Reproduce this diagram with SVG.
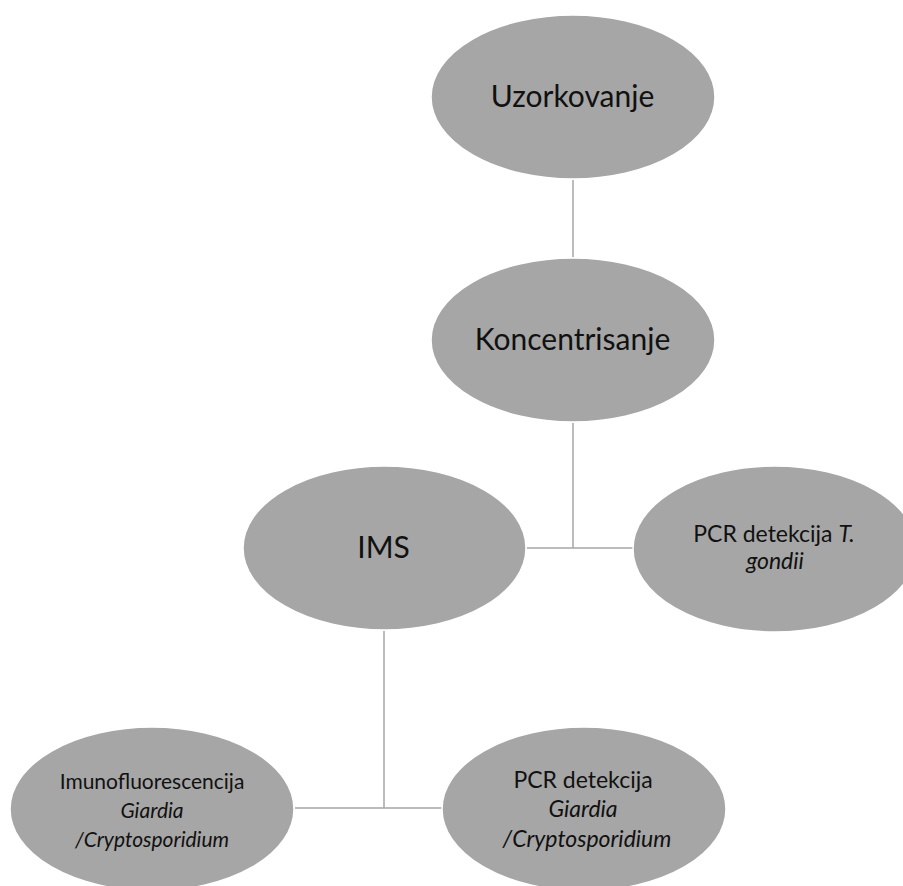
<svg xmlns="http://www.w3.org/2000/svg" width="903" height="886" viewBox="0 0 903 886">
<style>
.node{fill:#a6a6a6;stroke:#ffffff;stroke-width:1.5}
.lbl{font-family:Lato,"Open Sans","Liberation Sans",sans-serif;fill:#111111;text-anchor:middle}
.big{font-size:30px}
.mid{font-size:23px}
.sm{font-size:21px}
.it{font-style:italic}
.conn{fill:none;stroke:#a6a6a6;stroke-width:1.5}
</style>
<rect width="903" height="886" fill="#ffffff"/>
<g id="connectors">
<path class="conn" d="M573 180V257"/>
<path class="conn" d="M573 423V548M527 548H633"/>
<path class="conn" d="M384 631V808M295 808H442"/>
</g>
<g id="n-uzorkovanje">
<ellipse class="node" cx="573" cy="97" rx="142" ry="82"/>
<text class="lbl big" x="572.5" y="107">Uzorkovanje</text>
</g>
<g id="n-koncentrisanje">
<ellipse class="node" cx="573" cy="340" rx="142" ry="82"/>
<text class="lbl big" x="572.5" y="350">Koncentrisanje</text>
</g>
<g id="n-ims">
<ellipse class="node" cx="384.5" cy="548" rx="141.5" ry="82"/>
<text class="lbl big" x="383.5" y="558">IMS</text>
</g>
<g id="n-pcr-tgondii">
<ellipse class="node" cx="775" cy="549" rx="142" ry="83"/>
<text class="lbl mid" x="774" y="542">PCR detekcija <tspan class="it">T.</tspan></text>
<text class="lbl mid it" x="775" y="569">gondii</text>
</g>
<g id="n-imunofluorescencija">
<ellipse class="node" cx="152" cy="809" rx="142" ry="82"/>
<text class="lbl sm" x="152" y="789">Imunofluorescencija</text>
<text class="lbl sm it" x="152" y="818">Giardia</text>
<text class="lbl sm it" x="152" y="847">/Cryptosporidium</text>
</g>
<g id="n-pcr-giardia">
<ellipse class="node" cx="584" cy="809" rx="142" ry="82"/>
<text class="lbl mid" x="583" y="788">PCR detekcija</text>
<text class="lbl mid it" x="583" y="817">Giardia</text>
<text class="lbl mid it" x="587" y="847">/Cryptosporidium</text>
</g>
</svg>
